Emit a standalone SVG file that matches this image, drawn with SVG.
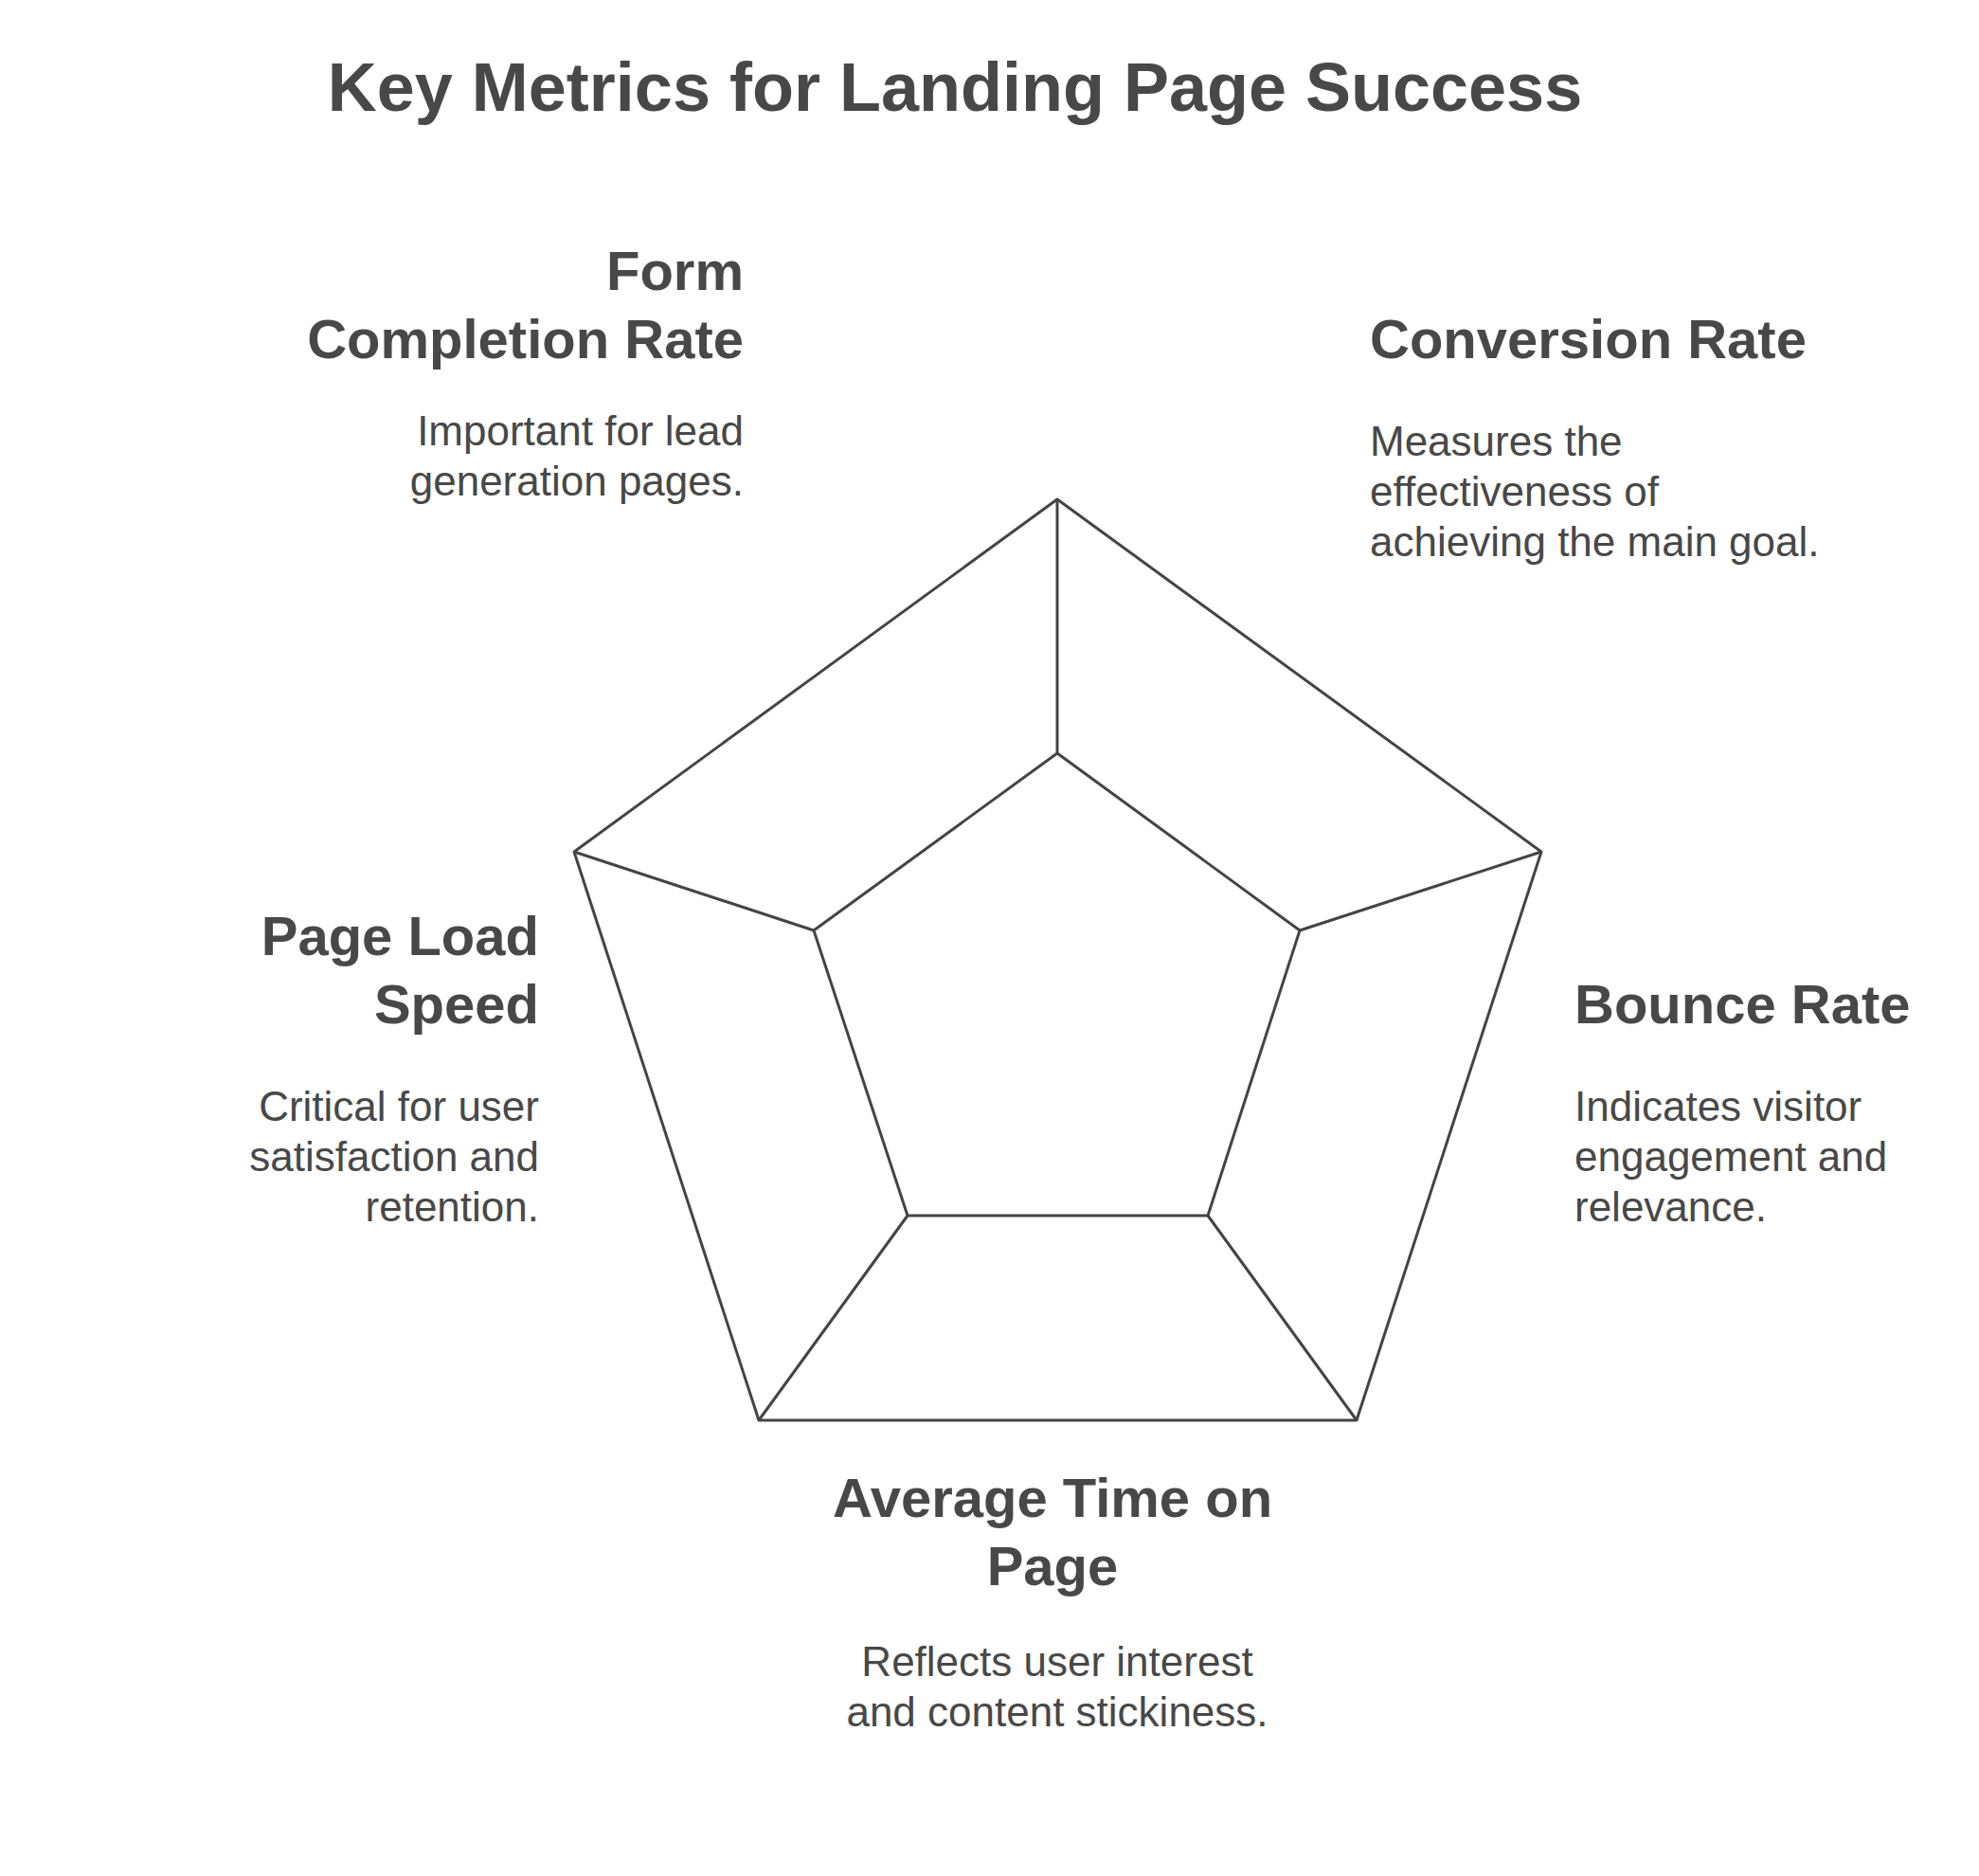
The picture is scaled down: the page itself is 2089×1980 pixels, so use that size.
<svg xmlns="http://www.w3.org/2000/svg" width="2089" height="1980" viewBox="0 0 2089 1980">
<style>
text{font-family:"Liberation Sans",Arial,sans-serif;fill:#484848}
.t{font-size:72px;font-weight:bold}
.h{font-size:58px;font-weight:bold}
.d{font-size:44px}
.e{stroke:#444;stroke-width:3;fill:none;stroke-linejoin:round}
</style>
<rect width="2089" height="1980" fill="#fff"/>
<text class="t" x="1008" y="117" text-anchor="middle">Key Metrics for Landing Page Success</text>
<g id="connectors">
<polygon class="e" points="1116,795 1372,982 1275,1283 958,1283 859,982"/>
<path class="e" d="M606,899 L1116,527 L1627,899 L1432,1499 L801,1499 Z"/>
<path class="e" d="M1116,527 L1116,795 M1627,899 L1372,982 M1432,1499 L1275,1283 M801,1499 L958,1283 M606,899 L859,982"/>
</g>
<g id="form" text-anchor="end">
<text class="h" x="785" y="306">Form</text>
<text class="h" x="785" y="378">Completion Rate</text>
<text class="d" x="785" y="470">Important for lead</text>
<text class="d" x="785" y="523">generation pages.</text>
</g>
<g id="conversion">
<text class="h" x="1446" y="378">Conversion Rate</text>
<text class="d" x="1446" y="481">Measures the</text>
<text class="d" x="1446" y="534">effectiveness of</text>
<text class="d" x="1446" y="587">achieving the main goal.</text>
</g>
<g id="pageload" text-anchor="end">
<text class="h" x="569" y="1008">Page Load</text>
<text class="h" x="569" y="1080">Speed</text>
<text class="d" x="569" y="1183">Critical for user</text>
<text class="d" x="569" y="1236">satisfaction and</text>
<text class="d" x="569" y="1289">retention.</text>
</g>
<g id="bounce">
<text class="h" x="1662" y="1080">Bounce Rate</text>
<text class="d" x="1662" y="1183">Indicates visitor</text>
<text class="d" x="1662" y="1236">engagement and</text>
<text class="d" x="1662" y="1289">relevance.</text>
</g>
<g id="average" text-anchor="middle">
<text class="h" x="1111" y="1601">Average Time on</text>
<text class="h" x="1111" y="1673">Page</text>
<text class="d" x="1116" y="1769">Reflects user interest</text>
<text class="d" x="1116" y="1822">and content stickiness.</text>
</g>
</svg>
